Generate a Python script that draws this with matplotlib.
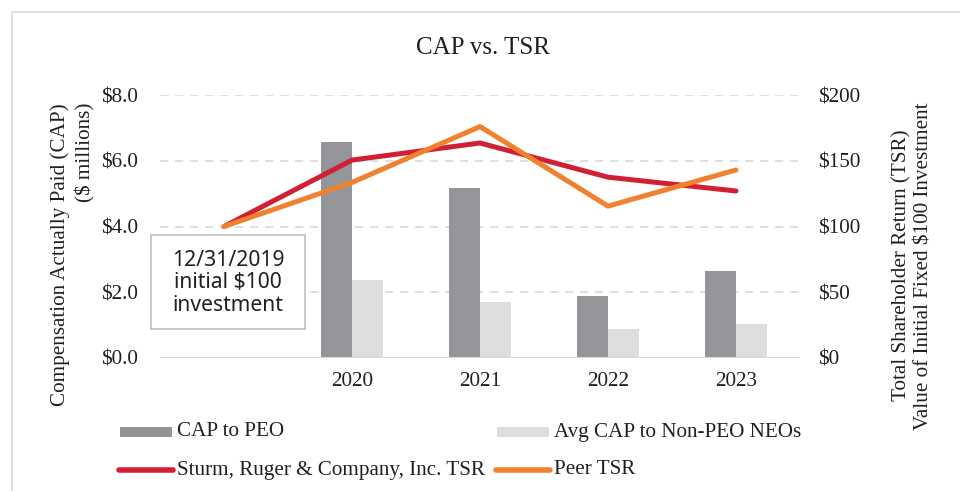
import matplotlib
matplotlib.use("Agg")
import matplotlib.pyplot as plt
from matplotlib.patches import Rectangle
from matplotlib.lines import Line2D
import numpy as np

categories = ["", "2020", "2021", "2022", "2023"]
cap_peo = [np.nan, 6.57, 5.17, 1.88, 2.64]
cap_neo = [np.nan, 2.37, 1.70, 0.88, 1.03]
ruger_tsr = [100, 150.5, 163.5, 137.5, 127]
peer_tsr = [100, 133.5, 176, 115.5, 143]
left_ticks = [0, 2, 4, 6, 8]
right_ticks = [0, 50, 100, 150, 200]

SERIF = ["Liberation Serif", "DejaVu Serif"]
plt.rcParams['font.family'] = SERIF

c_peo = "#939598"
c_neo = "#dcdddf"
c_red = "#d21f34"
c_orange = "#f0812f"
grid_c = "#d9d9d9"
txt_c = "#231f20"
FS = 15.2

fig = plt.figure(figsize=(9.6, 4.91), dpi=100)
W, H = 960, 491
ax = fig.add_axes([160/W, 1-358/H, 640/W, 263/H])
ax2 = ax.twinx()

x = np.arange(len(categories))
bw = 0.242
ax.bar(x - bw/2, cap_peo, width=bw, color=c_peo, zorder=2)
ax.bar(x + bw/2, cap_neo, width=bw, color=c_neo, zorder=2)
ax.set_xlim(-0.5, len(categories) - 0.5)
ax.set_ylim(0, 8)
ax.set_yticks(left_ticks)
ax.set_yticklabels([f"${v:.1f}" for v in left_ticks], fontsize=FS)
ax.set_xticks(x)
ax.set_xticklabels(categories, fontsize=FS)
for yv in left_ticks[1:]:
    ax.axhline(yv, color=grid_c, lw=1.2, ls=(0, (5, 4)), zorder=1)
ax.axhline(0, color=grid_c, lw=1.5, zorder=3)
for s in ax.spines.values():
    s.set_visible(False)
for s in ax2.spines.values():
    s.set_visible(False)
ax.tick_params(length=0, pad=16, colors=txt_c)
ax.tick_params(axis='x', pad=10)

ax2.plot(x, ruger_tsr, color=c_red, lw=3.6, solid_capstyle='round', solid_joinstyle='round', zorder=4)
ax2.plot(x, peer_tsr, color=c_orange, lw=3.6, solid_capstyle='round', solid_joinstyle='round', zorder=5)
ax2.set_ylim(0, 200)
ax2.set_yticks(right_ticks)
ax2.set_yticklabels([f"${v}" for v in right_ticks], fontsize=FS)
ax2.tick_params(length=0, pad=13, colors=txt_c)

fig.text(483/W, 1-48/H, "CAP vs. TSR", ha='center', va='center', fontsize=18, color=txt_c)
fig.text(60/W, 1-255/H, "Compensation Actually Paid (CAP)", rotation=90, ha='center', va='center', fontsize=FS, color=txt_c)
fig.text(85/W, 1-103/H, "($ millions)", rotation=90, ha='center', va='top', fontsize=FS, color=txt_c)
fig.text(902/W, 1-265/H, "Total Shareholder Return (TSR)", rotation=90, ha='center', va='center', fontsize=FS, color=txt_c)
fig.text(924/W, 1-266/H, "Value of Initial Fixed $100 Investment", rotation=90, ha='center', va='center', fontsize=FS, color=txt_c)

# annotation box
fig.patches.append(Rectangle((151/W, 1-329/H), 154/W, 94/H, transform=fig.transFigure,
                             facecolor="white", edgecolor="#bfbfbf", lw=1.2, zorder=6))
fig.text(228/W, 1-283/H, "12/31/2019\ninitial $100\ninvestment", ha='center', va='center',
         fontsize=15.2, family=["Noto Sans", "DejaVu Sans"], color=txt_c, linespacing=1.12, zorder=7)

# legend
def patch(x0, y0, color):
    fig.patches.append(Rectangle((x0/W, 1-(y0+5)/H), 52/W, 10/H, transform=fig.transFigure,
                                 facecolor=color, edgecolor='none'))
def lline(x0, y0, color):
    fig.lines.append(Line2D([x0/W, (x0+54)/W], [1-y0/H, 1-y0/H], transform=fig.transFigure,
                            color=color, lw=4, solid_capstyle='round'))
patch(120, 432, c_peo)
fig.text(177/W, 1-432/H, "CAP to PEO", va='center', fontsize=FS, color=txt_c)
patch(497, 432, c_neo)
fig.text(554/W, 1-432/H, "Avg CAP to Non-PEO NEOs", va='center', fontsize=FS, color=txt_c)
lline(119, 470, c_red)
fig.text(177/W, 1-470/H, "Sturm, Ruger & Company, Inc. TSR", va='center', fontsize=FS, color=txt_c)
lline(496, 470, c_orange)
fig.text(554/W, 1-470/H, "Peer TSR", va='center', fontsize=FS, color=txt_c)

# outer border
fig.patches.append(Rectangle((12/W, -0.05), 1.0, 1-12/H+0.05, transform=fig.transFigure,
                             facecolor='none', edgecolor="#d9d9d9", lw=1.2))

fig.savefig("out.png", dpi=100)
